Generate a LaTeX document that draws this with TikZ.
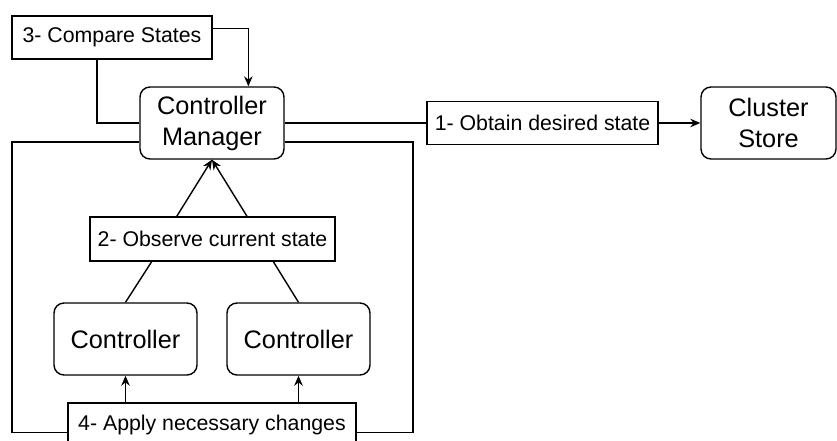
\documentclass[tikz,border=0pt]{standalone}
\usepackage{fontspec}
\setmainfont{Liberation Sans}
\usetikzlibrary{arrows.meta,calc}
\begin{document}
\begin{tikzpicture}[x=1pt,y=-1pt, line width=1.4pt,
  box/.style={draw, rounded corners=10pt, minimum width=#1, minimum height=72pt, inner sep=0pt, align=center, font=\fontsize{25.3}{31}\selectfont},
  box/.default=143pt,
  lbl/.style={draw, rectangle, minimum width=#1, minimum height=43pt, inner sep=0pt, font=\fontsize{21.3}{26}\selectfont},
  arr/.style={-{Stealth[length=10pt,width=8.5pt]}}]
\clip (0,0) rectangle (837,440);
\fill[white] (0,0) rectangle (837,440);

\node[lbl=200pt] (cmp) at (112,37.5) {3- Compare States};
\node[box=144pt] (cm) at (212,123) {Controller\\Manager};
\node[lbl=231pt] (obt) at (542.5,123) {1- Obtain desired state};
\node[box=135pt] (cs) at (768.5,123) {Cluster\\Store};
\node[lbl=245pt, minimum height=44pt] (obs) at (212.5,239) {2- Observe current state};
\node[box] (c1) at (125.5,339) {Controller};
\node[box] (c2) at (298.5,339) {Controller};
\node[lbl=288pt, minimum height=44pt] (app) at (212,425) {4- Apply necessary changes};

% compare states loop
\coordinate (cmpR) at ($(cmp.north east)!0.3!(cmp.south east)$);
\coordinate (cmT) at ($(cm.north west)!0.75!(cm.north east)$);
\draw[arr] (cmpR) -| (cmT);
\coordinate (cmpB) at ($(cmp.south west)!0.425!(cmp.south east)$);
\draw (cmpB) |- (cm.west);

% obtain desired state
\draw (cm.east) -- (obt.west);
\draw[arr] (obt.east) -- (cs.west);

% apply changes loop
\coordinate (cmL) at ($(cm.north west)!0.76!(cm.south west)$);
\coordinate (cmR) at ($(cm.north east)!0.76!(cm.south east)$);
\coordinate (appL) at ($(app.north west)!0.66!(app.south west)$);
\coordinate (appR) at ($(app.north east)!0.66!(app.south east)$);
\coordinate (lc) at (12,0);
\coordinate (rc) at (413,0);
\draw (cmL) -- (cmL -| lc) -- (appL -| lc) -- (appL);
\draw (cmR) -- (cmR -| rc) -- (appR -| rc) -- (appR);

% observe current state
\coordinate (o1) at ($(obs.north west)!0.355!(obs.north east)$);
\coordinate (o2) at ($(obs.north west)!0.64!(obs.north east)$);
\draw[arr] (o1) -- (cm.south);
\draw[arr] (o2) -- (cm.south);
\coordinate (o3) at ($(obs.south west)!0.253!(obs.south east)$);
\coordinate (o4) at ($(obs.south west)!0.747!(obs.south east)$);
\draw (o3) -- (c1.north);
\draw (o4) -- (c2.north);

% apply to controllers
\draw[arr] (app.north -| c1.south) -- (c1.south);
\draw[arr] (app.north -| c2.south) -- (c2.south);
\end{tikzpicture}
\end{document}
